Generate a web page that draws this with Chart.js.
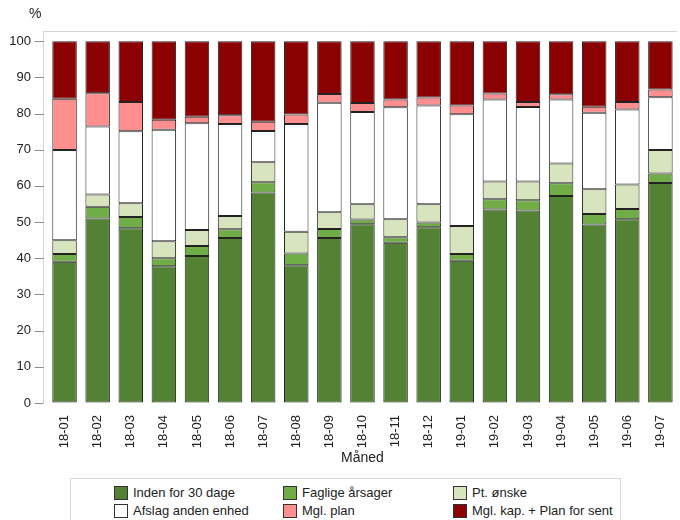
<!DOCTYPE html>
<html>
<head>
<meta charset="utf-8">
<script src="https://cdn.jsdelivr.net/npm/chart.js@4/dist/chart.umd.min.js"></script>
<style>
  html, body { margin: 0; padding: 0; background: #fff; }
  #wrap { position: relative; width: 680px; height: 520px; overflow: hidden; font-family: "Liberation Sans", Arial, sans-serif; color: #222; }
  #c { position: absolute; left: 0; top: 0; }
  #pct { position: absolute; left: 29px; top: 5px; font-size: 14px; }
  #legend { position: absolute; left: 70px; top: 478px; width: 551px; height: 50px; border: 1px solid #d9d9d9; box-sizing: border-box; }
  .li { position: absolute; font-size: 13px; line-height: 14px; white-space: nowrap; }
  .sw { display: inline-block; width: 12px; height: 12px; border: 1px solid #333; vertical-align: top; margin-right: 5px; }
</style>
</head>
<body>
<div id="wrap">
  <canvas id="c" width="680" height="470"></canvas>
  <div id="pct">%</div>
  <div id="legend"></div>
</div>
<script>
const months = ["18-01","18-02","18-03","18-04","18-05","18-06","18-07","18-08","18-09","18-10","18-11","18-12","19-01","19-02","19-03","19-04","19-05","19-06","19-07"];
const yTicks = [0,10,20,30,40,50,60,70,80,90,100];
const seriesNames = ["Inden for 30 dage","Faglige årsager","Pt. ønske","Afslag anden enhed","Mgl. plan","Mgl. kap. + Plan for sent"];
const inden    = [39.0,51.0,48.3,37.8,40.6,45.6,58.2,38.1,45.6,49.4,44.3,48.6,39.3,53.5,53.2,57.2,49.3,50.8,60.8];
const faglige  = [2.2,3.2,3.1,2.2,2.8,2.4,2.8,3.2,2.5,1.3,1.5,1.3,1.9,2.8,2.8,3.5,2.9,2.8,2.6];
const ptOnske  = [3.8,3.4,3.8,4.7,4.4,3.7,5.5,6.0,4.6,4.2,5.0,5.0,7.7,4.9,5.2,5.5,6.9,6.8,6.5];
const afslag   = [24.9,18.8,19.9,30.8,29.5,25.4,8.7,29.8,30.3,25.5,30.9,27.3,30.9,22.7,20.6,17.7,21.1,20.7,14.6];
const mglPlan  = [14.2,9.2,8.1,2.8,1.8,2.4,2.5,2.6,2.4,2.5,2.2,2.2,2.4,1.6,1.4,1.4,1.7,2.1,2.1];
const mglKap   = [15.9,14.4,16.8,21.7,20.9,20.5,22.3,20.3,14.6,17.1,16.1,15.6,17.8,14.5,16.8,14.7,18.1,16.8,13.4];

const seriesData = [inden, faglige, ptOnske, afslag, mglPlan, mglKap];
const colors = ["#548235","#70ad47","#d7e4bd","#ffffff","#ff8f8f","#8b0000"];

const frame = {
  id: 'frame',
  beforeDatasetsDraw(chart) {
    const {ctx, chartArea} = chart;
    const ys = chart.scales.y;
    const x0 = chartArea.left - 5 + 0.5;
    ctx.save();
    ctx.strokeStyle = '#d4d4d4';
    ctx.lineWidth = 1;
    ctx.beginPath();
    ctx.moveTo(x0, chartArea.bottom);
    ctx.lineTo(x0, Math.round(chartArea.top) + 0.5);
    ctx.lineTo(chartArea.right, Math.round(chartArea.top) + 0.5);
    ctx.stroke();
    ctx.strokeStyle = '#8c8c8c';
    ctx.beginPath();
    yTicks.forEach(v => {
      const y = Math.round(ys.getPixelForValue(v)) + 0.5;
      ctx.moveTo(x0 - 9, y);
      ctx.lineTo(x0, y);
    });
    ctx.stroke();
    ctx.restore();
  }
};

Chart.defaults.font.family = '"Liberation Sans", Arial, sans-serif';
Chart.defaults.color = '#222';

new Chart(document.getElementById('c'), {
  type: 'bar',
  data: {
    labels: months,
    datasets: seriesData.map((d, i) => ({
      label: seriesNames[i],
      data: d,
      backgroundColor: colors[i],
      borderColor: '#222',
      borderWidth: 1,
      borderSkipped: false,
      barPercentage: 0.74,
      categoryPercentage: 1.0
    }))
  },
  options: {
    responsive: false,
    animation: false,
    layout: { padding: { top: 31, right: 0, bottom: 0, left: 0 } },
    plugins: { legend: { display: false }, title: { display: false }, tooltip: { enabled: false } },
    scales: {
      x: {
        stacked: true,
        grid: { display: false },
        border: { display: false },
        ticks: { maxRotation: 90, minRotation: 90, padding: 4, font: { size: 13 }, color: '#222', autoSkip: false },
        title: { display: true, text: 'Måned', font: { size: 14 }, color: '#222', padding: { top: 4, bottom: 3 } },
        afterFit(scale) { scale.height = 67; }
      },
      y: {
        stacked: true,
        min: 0,
        max: 102.8,
        grid: { display: true, drawOnChartArea: false, drawTicks: true, tickLength: 14, tickColor: 'rgba(0,0,0,0)', color: 'rgba(0,0,0,0)' },
        border: { display: false },
        ticks: { stepSize: 10, includeBounds: false, padding: 3, font: { size: 13 }, color: '#222' },
        afterFit(scale) { scale.width = 48; }
      }
    }
  },
  plugins: [frame]
});

// HTML legend built from the series arrays
const legend = document.getElementById('legend');
const colX = [43, 212, 382];
const rowY = [7, 25];
seriesNames.forEach((name, i) => {
  const el = document.createElement('div');
  el.className = 'li';
  el.style.left = colX[i % 3] + 'px';
  el.style.top = rowY[Math.floor(i / 3)] + 'px';
  const sw = document.createElement('span');
  sw.className = 'sw';
  sw.style.background = colors[i];
  el.appendChild(sw);
  el.appendChild(document.createTextNode(name));
  legend.appendChild(el);
});
</script>
</body>
</html>
